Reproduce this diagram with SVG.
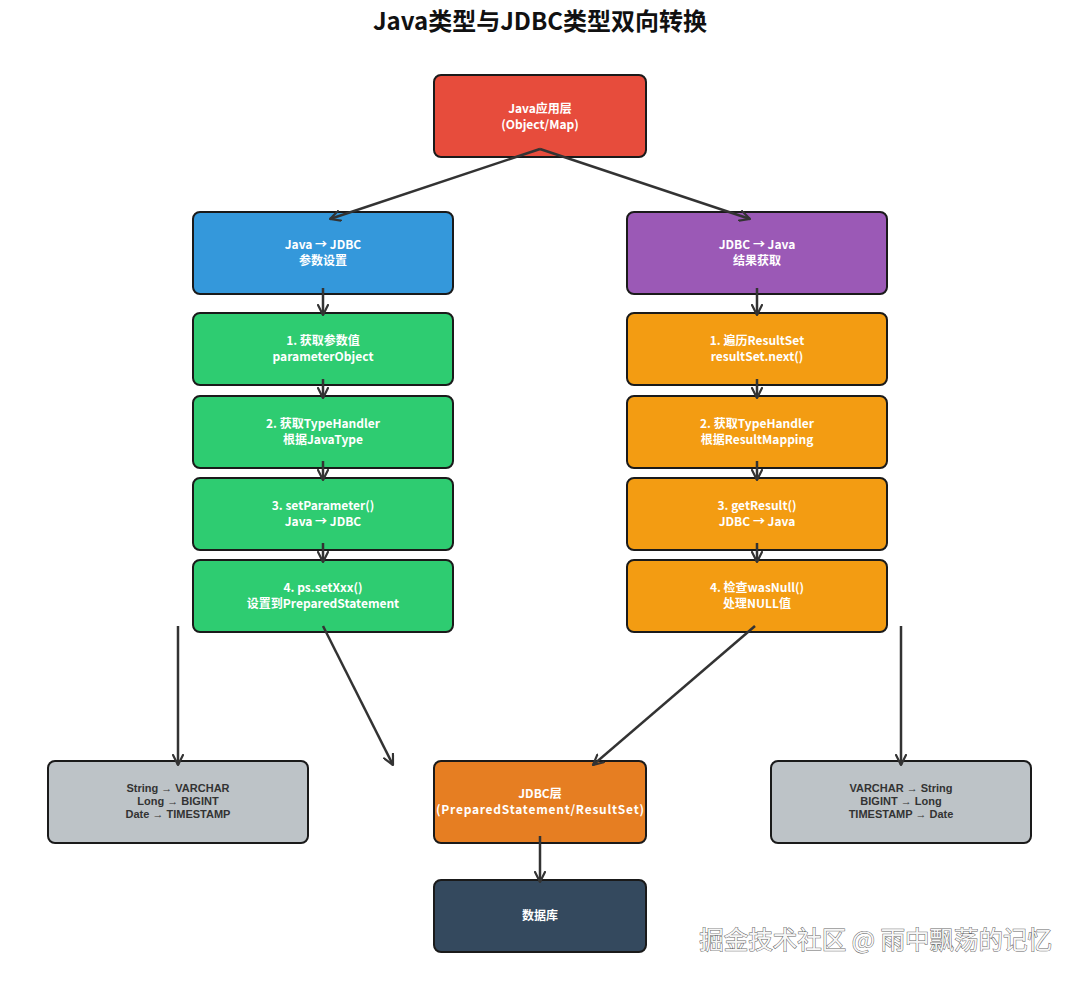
<svg xmlns="http://www.w3.org/2000/svg" width="1080" height="981" viewBox="0 0 1080 981">
<defs>
<marker id="arr" viewBox="0 0 12 12" refX="11" refY="6" markerWidth="12" markerHeight="12" markerUnits="userSpaceOnUse" orient="auto">
<path d="M1,1 L11,6 L1,11" fill="none" stroke="#333" stroke-width="2.2" stroke-linecap="round" stroke-linejoin="round"/>
</marker>
</defs>
<style>
.box{stroke:#1a1a1a;stroke-width:2}
.t{font-family:"Noto Sans CJK SC","Noto Sans",sans-serif;font-weight:bold;font-size:12px;fill:#fff;text-anchor:middle}
.g{font-family:"Liberation Sans","Noto Sans CJK SC",sans-serif;font-weight:bold;font-size:11px;fill:#333;text-anchor:middle}
.c{fill:none;stroke:#333;stroke-width:2.5;marker-end:url(#arr)}
</style>
<rect width="1080" height="981" fill="#fff"/>
<text x="540" y="30" font-family="'Noto Sans CJK SC','Noto Sans',sans-serif" font-weight="bold" font-size="24" text-anchor="middle" fill="#111">Java类型与JDBC类型双向转换</text>

<g id="app"><rect class="box" x="434" y="75" width="212" height="82" rx="7" fill="#e74c3c"/><text class="t" x="540" y="113">Java应用层</text><text class="t" x="540" y="129">(Object/Map)</text></g>
<g id="j2jdbc"><rect class="box" x="193" y="212" width="260" height="82" rx="7" fill="#3498db"/><text class="t" x="323" y="249">Java → JDBC</text><text class="t" x="323" y="265">参数设置</text></g>
<g id="jdbc2j"><rect class="box" x="627" y="212" width="260" height="82" rx="7" fill="#9b59b6"/><text class="t" x="757" y="249">JDBC → Java</text><text class="t" x="757" y="265">结果获取</text></g>

<g id="l1"><rect class="box" x="193" y="313" width="260" height="72" rx="7" fill="#2ecc71"/><text class="t" x="323" y="345">1. 获取参数值</text><text class="t" x="323" y="361">parameterObject</text></g>
<g id="l2"><rect class="box" x="193" y="396" width="260" height="72" rx="7" fill="#2ecc71"/><text class="t" x="323" y="428">2. 获取TypeHandler</text><text class="t" x="323" y="444">根据JavaType</text></g>
<g id="l3"><rect class="box" x="193" y="478" width="260" height="72" rx="7" fill="#2ecc71"/><text class="t" x="323" y="510">3. setParameter()</text><text class="t" x="323" y="526">Java → JDBC</text></g>
<g id="l4"><rect class="box" x="193" y="560" width="260" height="72" rx="7" fill="#2ecc71"/><text class="t" x="323" y="592">4. ps.setXxx()</text><text class="t" x="323" y="608">设置到PreparedStatement</text></g>

<g id="r1"><rect class="box" x="627" y="313" width="260" height="72" rx="7" fill="#f39c12"/><text class="t" x="757" y="345">1. 遍历ResultSet</text><text class="t" x="757" y="361">resultSet.next()</text></g>
<g id="r2"><rect class="box" x="627" y="396" width="260" height="72" rx="7" fill="#f39c12"/><text class="t" x="757" y="428">2. 获取TypeHandler</text><text class="t" x="757" y="444">根据ResultMapping</text></g>
<g id="r3"><rect class="box" x="627" y="478" width="260" height="72" rx="7" fill="#f39c12"/><text class="t" x="757" y="510">3. getResult()</text><text class="t" x="757" y="526">JDBC → Java</text></g>
<g id="r4"><rect class="box" x="627" y="560" width="260" height="72" rx="7" fill="#f39c12"/><text class="t" x="757" y="592">4. 检查wasNull()</text><text class="t" x="757" y="608">处理NULL值</text></g>

<g id="gl"><rect class="box" x="48" y="761" width="260" height="82" rx="7" fill="#bdc3c7"/><text class="g" x="178" y="792">String → VARCHAR</text><text class="g" x="178" y="805">Long → BIGINT</text><text class="g" x="178" y="818">Date → TIMESTAMP</text></g>
<g id="jdbc"><rect class="box" x="434" y="761" width="212" height="82" rx="7" fill="#e67e22"/><text class="t" x="540" y="798">JDBC层</text><text class="t" x="540" y="814" textLength="208" lengthAdjust="spacing">(PreparedStatement/ResultSet)</text></g>
<g id="gr"><rect class="box" x="771" y="761" width="260" height="82" rx="7" fill="#bdc3c7"/><text class="g" x="901" y="792">VARCHAR → String</text><text class="g" x="901" y="805">BIGINT → Long</text><text class="g" x="901" y="818">TIMESTAMP → Date</text></g>
<g id="db"><rect class="box" x="434" y="880" width="212" height="72" rx="7" fill="#34495e"/><text class="t" x="540" y="920">数据库</text></g>

<g id="connectors">
<line class="c" x1="540" y1="149" x2="330" y2="219"/>
<line class="c" x1="540" y1="149" x2="750" y2="219"/>
<line class="c" x1="323" y1="288" x2="323" y2="315"/>
<line class="c" x1="757" y1="288" x2="757" y2="315"/>
<line class="c" x1="323" y1="379" x2="323" y2="398"/>
<line class="c" x1="323" y1="461" x2="323" y2="480"/>
<line class="c" x1="323" y1="543" x2="323" y2="562"/>
<line class="c" x1="757" y1="379" x2="757" y2="398"/>
<line class="c" x1="757" y1="461" x2="757" y2="480"/>
<line class="c" x1="757" y1="543" x2="757" y2="562"/>
<line class="c" x1="178" y1="626" x2="178" y2="765"/>
<line class="c" x1="323" y1="626" x2="393" y2="765"/>
<line class="c" x1="755" y1="626" x2="593" y2="765"/>
<line class="c" x1="901" y1="626" x2="901" y2="765"/>
<line class="c" x1="540" y1="836" x2="540" y2="882"/>
</g>
<text x="1052" y="949" font-family="'Noto Sans CJK SC',sans-serif" font-size="24.5" text-anchor="end" fill="#f7f7f7" stroke="#666" stroke-width="1" paint-order="stroke">掘金技术社区 @ 雨中飘荡的记忆</text>
</svg>
